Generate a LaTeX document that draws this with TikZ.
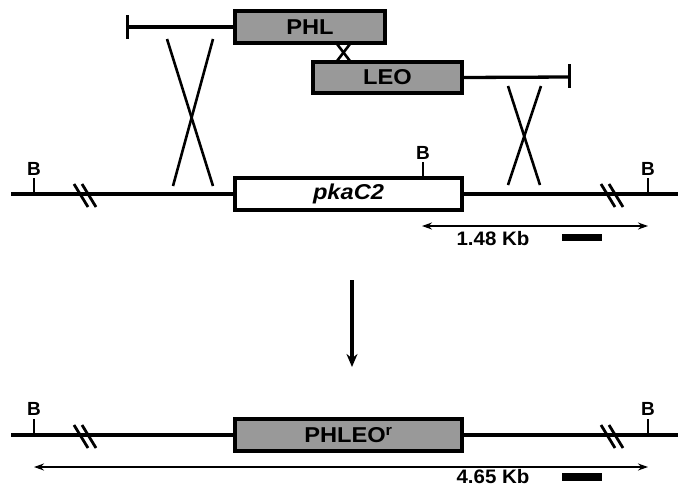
\documentclass[tikz,border=0pt]{standalone}
\usepackage{fontspec}
\setmainfont{Liberation Sans}
\usetikzlibrary{arrows.meta}
\definecolor{boxgray}{RGB}{153,153,153}
\newcommand{\wideA}[1]{\scalebox{1.1}[1]{#1}}
\newcommand{\wideB}[1]{\scalebox{1.05}[1]{#1}}
\begin{document}
\begin{tikzpicture}[x=1pt,y=-1pt,
  box/.style={draw=black,line width=3.4pt,inner sep=0pt,font=\fontsize{21.5}{23}\selectfont\bfseries},
  gbox/.style={box,fill=boxgray},
  wbox/.style={box,fill=white},
  dna/.style={line width=3.3pt},
  xline/.style={line width=2.6pt},
  tbar/.style={line width=3pt},
  btick/.style={line width=2.5pt},
  slash/.style={line width=2.8pt},
  blabel/.style={font=\fontsize{19}{21}\selectfont\bfseries,inner sep=0pt},
  dimline/.style={line width=1.6pt,{Stealth[length=10pt,width=7pt]}-{Stealth[length=10pt,width=7pt]}},
  bigarrow/.style={line width=3.2pt,-{Stealth[length=13pt,width=11pt]}},
  scalebar/.style={fill=black,draw=none,inner sep=0pt,minimum width=40pt,minimum height=7.5pt},
  kb/.style={font=\fontsize{19.5}{21}\selectfont\bfseries,inner sep=0pt}]
\useasboundingbox (0,0) rectangle (678,488);

% ---- top constructs
\node[gbox,minimum width=150pt,minimum height=32pt] (phl) at (310,27) {\wideA{PHL}};
\node[gbox,minimum width=149pt,minimum height=31pt] (leo) at (387.5,77.5) {\wideA{LEO}};
\coordinate (tl) at (127,27);
\coordinate (tlA) at (127,15);
\coordinate (tlB) at (127,39);
\draw[dna] (phl.west) -- (tl);
\draw[tbar] (tlA) -- (tlB);
\coordinate (tr) at (569,77);
\coordinate (trA) at (569,64);
\coordinate (trB) at (569,88);
\draw[dna] (leo.east) -- (tr);
\draw[tbar] (trA) -- (trB);
% small cross between PHL and LEO
\coordinate (sx1) at (337,44);
\coordinate (sx2) at (350,61);
\coordinate (sx3) at (350,44);
\coordinate (sx4) at (337,61);
\draw[xline] (sx1) -- (sx2);
\draw[xline] (sx3) -- (sx4);
% big crosses
\coordinate (lx1) at (167,39);
\coordinate (lx2) at (213,186);
\coordinate (lx3) at (213,39);
\coordinate (lx4) at (173,186);
\draw[xline] (lx1) -- (lx2);
\draw[xline] (lx3) -- (lx4);
\coordinate (rx1) at (508,86);
\coordinate (rx2) at (540,185);
\coordinate (rx3) at (541,86);
\coordinate (rx4) at (508,185);
\draw[xline] (rx1) -- (rx2);
\draw[xline] (rx3) -- (rx4);

% ---- wild-type locus
\node[wbox,minimum width=227pt,minimum height=32pt] (pka) at (348.5,194) {\wideA{\itshape pkaC2}};
\coordinate (wL) at (11,194);
\coordinate (wR) at (678,194);
\draw[dna] (wL) -- (pka.west);
\draw[dna] (pka.east) -- (wR);
% B sites
\coordinate (b1) at (34,194);
\coordinate (b1t) at (34,178);
\draw[btick] (b1) -- (b1t);
\node[blabel] (lb1) at (34,168.5) {B};
\coordinate (b2) at (423,178);
\coordinate (b2t) at (423,162);
\draw[btick] (b2) -- (b2t);
\node[blabel] (lb2) at (423,152.5) {B};
\coordinate (b3) at (648,194);
\coordinate (b3t) at (648,178);
\draw[btick] (b3) -- (b3t);
\node[blabel] (lb3) at (648,168.5) {B};
% breaks
\coordinate (s1a) at (74,184);
\coordinate (s1b) at (88,207);
\coordinate (s2a) at (82,184);
\coordinate (s2b) at (96,207);
\draw[slash] (s1a) -- (s1b);
\draw[slash] (s2a) -- (s2b);
\coordinate (s3a) at (601,184);
\coordinate (s3b) at (615,207);
\coordinate (s4a) at (609,184);
\coordinate (s4b) at (623,207);
\draw[slash] (s3a) -- (s3b);
\draw[slash] (s4a) -- (s4b);
% 1.48 Kb
\coordinate (d1a) at (422,226);
\coordinate (d1b) at (648,226);
\draw[dimline] (d1a) -- (d1b);
\node[kb] (kb1) at (493,239) {\wideB{1.48 Kb}};
\node[scalebar] (sb1) at (582,237.5) {};

% ---- arrow
\coordinate (aTop) at (352,280);
\coordinate (aBot) at (352,367);
\draw[bigarrow] (aTop) -- (aBot);

% ---- recombinant locus
\node[gbox,minimum width=227pt,minimum height=32pt] (phleo) at (348.5,435) {\wideA{PHLEO\textsuperscript{r}}};
\coordinate (mL) at (11,435);
\coordinate (mR) at (678,435);
\draw[dna] (mL) -- (phleo.west);
\draw[dna] (phleo.east) -- (mR);
\coordinate (c1) at (34,435);
\coordinate (c1t) at (34,419);
\draw[btick] (c1) -- (c1t);
\node[blabel] (lc1) at (34,409) {B};
\coordinate (c3) at (648,435);
\coordinate (c3t) at (648,419);
\draw[btick] (c3) -- (c3t);
\node[blabel] (lc3) at (648,409) {B};
\coordinate (t1a) at (74,425);
\coordinate (t1b) at (88,448);
\coordinate (t2a) at (82,425);
\coordinate (t2b) at (96,448);
\draw[slash] (t1a) -- (t1b);
\draw[slash] (t2a) -- (t2b);
\coordinate (t3a) at (601,425);
\coordinate (t3b) at (615,448);
\coordinate (t4a) at (609,425);
\coordinate (t4b) at (623,448);
\draw[slash] (t3a) -- (t3b);
\draw[slash] (t4a) -- (t4b);
% 4.65 Kb
\coordinate (d2a) at (34,467);
\coordinate (d2b) at (648,467);
\draw[dimline] (d2a) -- (d2b);
\node[kb] (kb2) at (493,477) {\wideB{4.65 Kb}};
\node[scalebar] (sb2) at (582,477) {};
\end{tikzpicture}
\end{document}
